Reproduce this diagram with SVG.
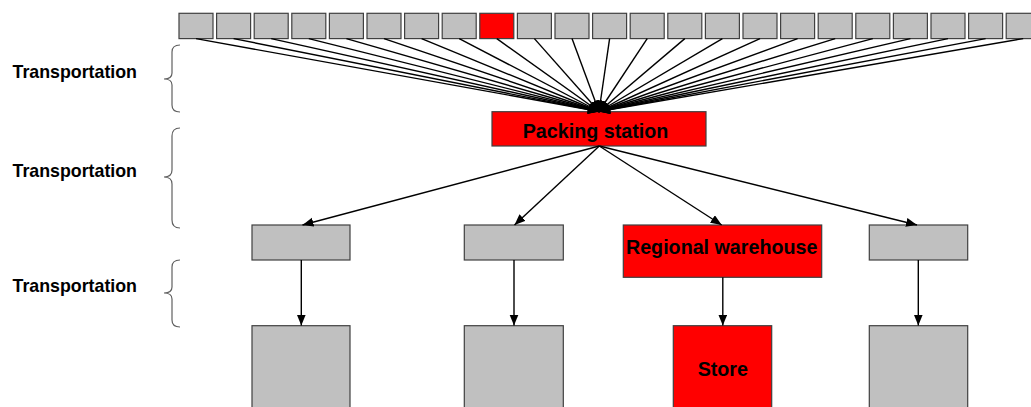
<svg xmlns="http://www.w3.org/2000/svg" width="1031" height="407" viewBox="0 0 1031 407">
<defs>
<style>
.g{fill:#c0c0c0;stroke:#404040;stroke-width:1.2}
.r{fill:#ff0000;stroke:#404040;stroke-width:1.2}
.c line{stroke:#000;stroke-width:1.4;marker-end:url(#ah)}
.t{font-family:"Liberation Sans",Arial,sans-serif;font-weight:bold;fill:#000}
.lbl{font-size:17.8px}
.nl{font-size:19.7px;text-anchor:middle}
.br{fill:none;stroke:#606060;stroke-width:1.2}
</style>
<marker id="ah" markerUnits="userSpaceOnUse" markerWidth="12" markerHeight="10" refX="11" refY="4.5" orient="auto">
<path d="M0,0 L11,4.5 L0,9 z" fill="#000"/>
</marker>
</defs>
<rect width="1031" height="407" fill="#fff"/>

<g id="labels">
<text class="t lbl" x="12.5" y="78">Transportation</text>
<path class="br" d="M180,45 Q172,45 172,52 L172,73 Q172,79 164,79 Q172,79 172,85 L172,105 Q172,112 180,112"/>
<text class="t lbl" x="12.5" y="177">Transportation</text>
<path class="br" d="M180,128 Q172,128 172,136 L172,170 Q172,177 164,177 Q172,177 172,184 L172,220 Q172,228 180,228"/>
<text class="t lbl" x="12.5" y="292">Transportation</text>
<path class="br" d="M180,260 Q172,260 172,267 L172,287 Q172,293 164,293 Q172,293 172,299 L172,320 Q172,327 180,327"/>
</g>

<g id="sources">
<rect id="s0" class="g" x="179" y="13.3" width="34" height="25.3"/>
<rect id="s1" class="g" x="216.6" y="13.3" width="34" height="25.3"/>
<rect id="s2" class="g" x="254.2" y="13.3" width="34" height="25.3"/>
<rect id="s3" class="g" x="291.8" y="13.3" width="34" height="25.3"/>
<rect id="s4" class="g" x="329.4" y="13.3" width="34" height="25.3"/>
<rect id="s5" class="g" x="367" y="13.3" width="34" height="25.3"/>
<rect id="s6" class="g" x="404.6" y="13.3" width="34" height="25.3"/>
<rect id="s7" class="g" x="442.2" y="13.3" width="34" height="25.3"/>
<rect id="s8" class="r" x="479.8" y="13.3" width="34" height="25.3"/>
<rect id="s9" class="g" x="517.4" y="13.3" width="34" height="25.3"/>
<rect id="s10" class="g" x="555" y="13.3" width="34" height="25.3"/>
<rect id="s11" class="g" x="592.6" y="13.3" width="34" height="25.3"/>
<rect id="s12" class="g" x="630.2" y="13.3" width="34" height="25.3"/>
<rect id="s13" class="g" x="667.8" y="13.3" width="34" height="25.3"/>
<rect id="s14" class="g" x="705.4" y="13.3" width="34" height="25.3"/>
<rect id="s15" class="g" x="743" y="13.3" width="34" height="25.3"/>
<rect id="s16" class="g" x="780.6" y="13.3" width="34" height="25.3"/>
<rect id="s17" class="g" x="818.2" y="13.3" width="34" height="25.3"/>
<rect id="s18" class="g" x="855.8" y="13.3" width="34" height="25.3"/>
<rect id="s19" class="g" x="893.4" y="13.3" width="34" height="25.3"/>
<rect id="s20" class="g" x="931" y="13.3" width="34" height="25.3"/>
<rect id="s21" class="g" x="968.6" y="13.3" width="34" height="25.3"/>
<rect id="s22" class="g" x="1006.2" y="13.3" width="34" height="25.3"/>
</g>

<g id="packing">
<rect class="r" x="492" y="111.7" width="214" height="34.3"/>
<text class="t nl" x="595.5" y="138">Packing station</text>
</g>

<g id="wh1"><rect class="g" x="252" y="225" width="98" height="35"/></g>
<g id="wh2"><rect class="g" x="464.3" y="225" width="99" height="35"/></g>
<g id="wh3">
<rect class="r" x="623.3" y="225" width="198.4" height="52.3"/>
<text class="t nl" x="721.7" y="254">Regional warehouse</text>
</g>
<g id="wh4"><rect class="g" x="869.3" y="225" width="98.4" height="35"/></g>

<g id="st1"><rect class="g" x="252" y="325.7" width="98" height="90"/></g>
<g id="st2"><rect class="g" x="464.3" y="325.7" width="99" height="90"/></g>
<g id="st3">
<rect class="r" x="673.3" y="325.7" width="98.4" height="90"/>
<text class="t nl" x="722.8" y="376">Store</text>
</g>
<g id="st4"><rect class="g" x="869.3" y="325.7" width="98.4" height="90"/></g>

<g id="connectors" class="c">
<line x1="196" y1="38.6" x2="599" y2="111.5"/>
<line x1="233.6" y1="38.6" x2="599" y2="111.5"/>
<line x1="271.2" y1="38.6" x2="599" y2="111.5"/>
<line x1="308.8" y1="38.6" x2="599" y2="111.5"/>
<line x1="346.4" y1="38.6" x2="599" y2="111.5"/>
<line x1="384" y1="38.6" x2="599" y2="111.5"/>
<line x1="421.6" y1="38.6" x2="599" y2="111.5"/>
<line x1="459.2" y1="38.6" x2="599" y2="111.5"/>
<line x1="496.8" y1="38.6" x2="599" y2="111.5"/>
<line x1="534.4" y1="38.6" x2="599" y2="111.5"/>
<line x1="572" y1="38.6" x2="599" y2="111.5"/>
<line x1="609.6" y1="38.6" x2="599" y2="111.5"/>
<line x1="647.2" y1="38.6" x2="599" y2="111.5"/>
<line x1="684.8" y1="38.6" x2="599" y2="111.5"/>
<line x1="722.4" y1="38.6" x2="599" y2="111.5"/>
<line x1="760" y1="38.6" x2="599" y2="111.5"/>
<line x1="797.6" y1="38.6" x2="599" y2="111.5"/>
<line x1="835.2" y1="38.6" x2="599" y2="111.5"/>
<line x1="872.8" y1="38.6" x2="599" y2="111.5"/>
<line x1="910.4" y1="38.6" x2="599" y2="111.5"/>
<line x1="948" y1="38.6" x2="599" y2="111.5"/>
<line x1="985.6" y1="38.6" x2="599" y2="111.5"/>
<line x1="1023.2" y1="38.6" x2="599" y2="111.5"/>
<line x1="599.3" y1="146" x2="302.5" y2="225"/>
<line x1="599.3" y1="146" x2="514.5" y2="225"/>
<line x1="599.3" y1="146" x2="721.7" y2="225"/>
<line x1="599.3" y1="146" x2="917" y2="225"/>
<line x1="301.3" y1="260" x2="301.3" y2="325.5"/>
<line x1="514" y1="260" x2="514" y2="325.5"/>
<line x1="722.8" y1="277.3" x2="722.8" y2="325.5"/>
<line x1="918.3" y1="260" x2="918.3" y2="325.5"/>
</g>
</svg>
